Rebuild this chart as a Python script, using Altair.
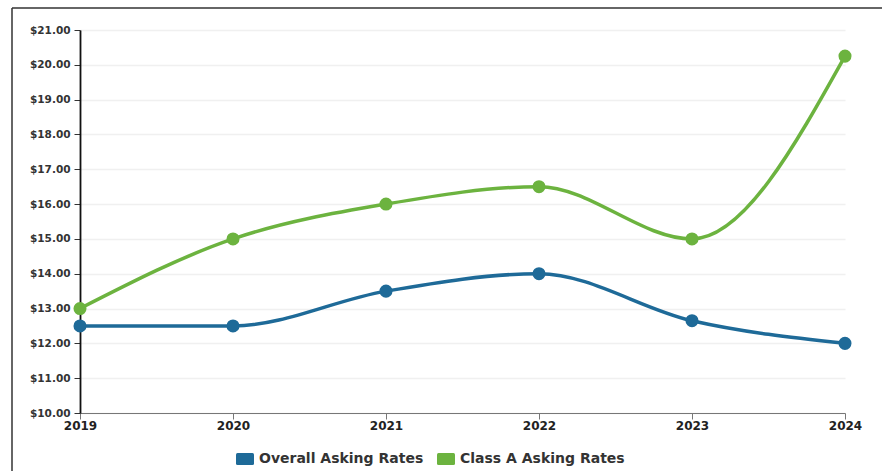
import altair as alt
import pandas as pd

years = [2019, 2020, 2021, 2022, 2023, 2024]
overall_rates = [12.50, 12.50, 13.50, 14.00, 12.65, 12.00]
class_a_rates = [13.00, 15.00, 16.00, 16.50, 15.00, 20.25]
series_names = ["Overall Asking Rates", "Class A Asking Rates"]
series_colors = ["#1e6a98", "#6cb33f"]

rows = []
for name, values in zip(series_names, [overall_rates, class_a_rates]):
    for y, v in zip(years, values):
        rows.append({"Year": y, "Rate": v, "Series": name})
df = pd.DataFrame(rows)

W, H = 765, 383
FONT = "DejaVu Sans"

x_enc = alt.X(
    "Year:Q",
    scale=alt.Scale(domain=[2019, 2024], nice=False, zero=False),
    axis=alt.Axis(
        values=years, format="d", title=None, grid=False, labelFlush=False,
        labelFont=FONT, labelFontWeight="bold", labelFontSize=12,
        labelColor="#222", domainColor="#777", tickColor="#777",
        tickSize=6, labelPadding=1,
    ),
)
y_enc = alt.Y(
    "Rate:Q",
    scale=alt.Scale(domain=[10, 21], nice=False, zero=False),
    axis=alt.Axis(
        values=list(range(10, 22)), format="$.2f", title=None,
        labelFont=FONT, labelFontWeight="bold", labelFontSize=10.5,
        labelColor="#333", domainColor="#111", domainWidth=1.8,
        tickColor="#333", tickSize=6, labelPadding=4,
        gridColor="#f0f0f0", gridWidth=1.5,
    ),
)
color_enc = alt.Color(
    "Series:N",
    scale=alt.Scale(domain=series_names, range=series_colors),
    sort=series_names,
    legend=alt.Legend(
        title=None, orient="none", direction="horizontal",
        legendX=158, legendY=422, columnPadding=13, labelOffset=7,
        labelLimit=400,
        symbolType="M-1.5,-0.75 Q-1.5,-1 -1.25,-1 L1.25,-1 Q1.5,-1 1.5,-0.75 L1.5,0.75 Q1.5,1 1.25,1 L-1.25,1 Q-1.5,1 -1.5,0.75 Z",
        symbolSize=144, symbolStrokeWidth=0, symbolOpacity=1,
        labelFont=FONT, labelFontWeight="bold", labelFontSize=14,
        labelColor="#333",
    ),
)

base = alt.Chart(df).encode(x=x_enc, y=y_enc, color=color_enc)
lines = base.mark_line(interpolate="monotone", strokeWidth=3.5)
points = base.mark_point(filled=True, size=170, opacity=1)

# panel frame: top and left edges
frame_src = pd.DataFrame({"k": [0]})
top_edge = alt.Chart(frame_src).mark_rule(color="#333", strokeWidth=1.5).encode(
    x=alt.value(-68), x2=alt.value(882 - 80), y=alt.value(-22)
)
left_edge = alt.Chart(frame_src).mark_rule(color="#333", strokeWidth=1.5).encode(
    x=alt.value(-68), y=alt.value(-22), y2=alt.value(471 - 30)
)

chart = (
    alt.layer(lines, points, top_edge, left_edge)
    .properties(width=W, height=H, background="white",
                autosize=alt.AutoSizeParams(type="none"),
                padding={"left": 80, "top": 30, "right": 37, "bottom": 58})
    .configure_view(stroke=None, strokeWidth=0)
)

chart.save("out.html", embed_options={"renderer": "svg", "actions": False})
